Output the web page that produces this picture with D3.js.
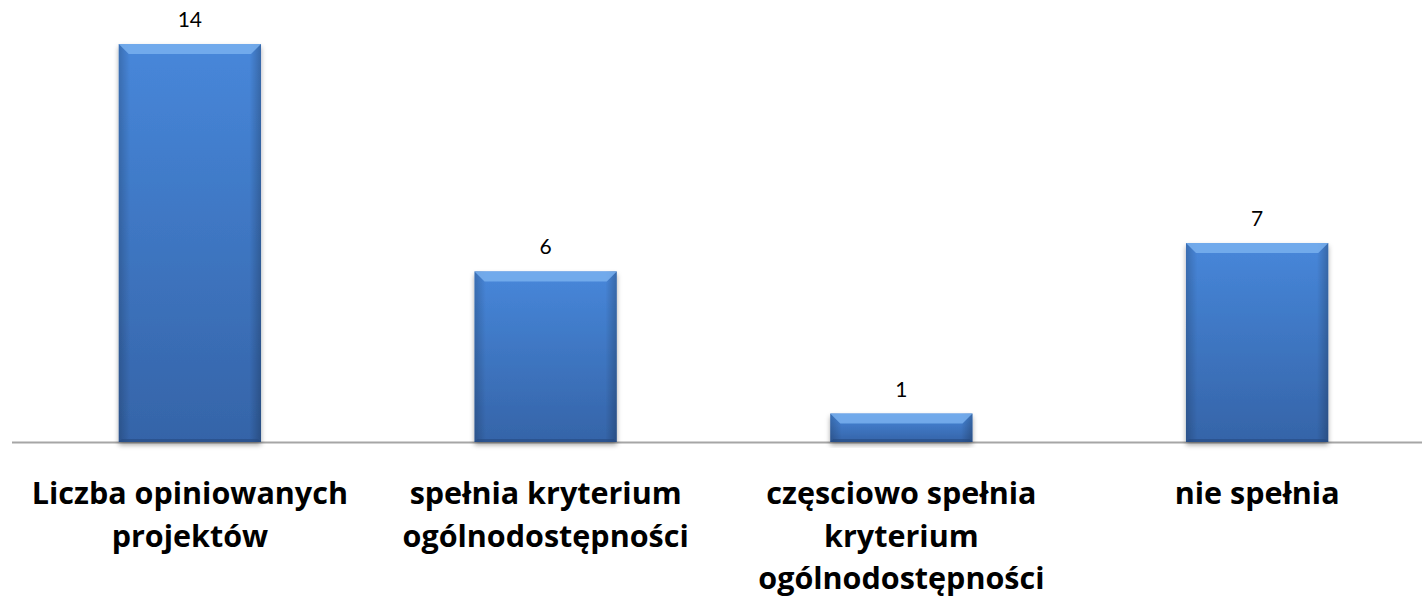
<!DOCTYPE html>
<html>
<head>
<meta charset="utf-8">
<script src="https://d3js.org/d3.v7.min.js"></script>
<style>
  body { margin: 0; background: #fff; }
  svg { display: block; }
</style>
</head>
<body>
<svg id="chart" width="1422" height="603"></svg>
<script>
// data
var categories = ["Liczba opiniowanych projektów", "spełnia kryterium ogólnodostępności", "częsciowo spełnia kryterium ogólnodostępności", "nie spełnia"];
var values = [14, 6, 1, 7];
var tickLabels = [
	["Liczba opiniowanych", "projektów"],
	["spełnia kryterium", "ogólnodostępności"],
	["częsciowo spełnia", "kryterium", "ogólnodostępności"],
	["nie spełnia"]
];

var svg = d3.select("#chart");
var baseY = 442;

var x = d3.scaleBand()
	.domain(categories)
	.range([12, 1435])
	.paddingInner(0.6)
	.paddingOuter(0.3);

var y = d3.scaleLinear()
	.domain([0, 14])
	.range([baseY, 44]);

var defs = svg.append("defs");

var grad = defs.append("linearGradient").attr("id", "barFill")
	.attr("x1", 0).attr("y1", 0).attr("x2", 0).attr("y2", 1);
grad.append("stop").attr("offset", "0%").attr("stop-color", "#4787da");
grad.append("stop").attr("offset", "100%").attr("stop-color", "#3564a8");

var side = defs.append("linearGradient").attr("id", "sideFill")
	.attr("x1", 0).attr("y1", 0).attr("x2", 1).attr("y2", 0);
side.append("stop").attr("offset", "0%").attr("stop-color", "#000").attr("stop-opacity", 0.18);
side.append("stop").attr("offset", "8%").attr("stop-color", "#000").attr("stop-opacity", 0);
side.append("stop").attr("offset", "92%").attr("stop-color", "#000").attr("stop-opacity", 0);
side.append("stop").attr("offset", "100%").attr("stop-color", "#000").attr("stop-opacity", 0.22);

var shadow = defs.append("filter").attr("id", "shadow")
	.attr("x", "-10%").attr("y", "-10%").attr("width", "120%").attr("height", "130%");
shadow.append("feDropShadow").attr("dx", 0).attr("dy", 3).attr("stdDeviation", 2.5)
	.attr("flood-color", "#000").attr("flood-opacity", 0.35);

// axis line
svg.append("line")
	.attr("x1", 12).attr("x2", 1422)
	.attr("y1", baseY + 0.5).attr("y2", baseY + 0.5)
	.attr("stroke", "#a6a6a6").attr("stroke-width", 2);

var bars = svg.selectAll("g.bar")
	.data(values)
	.enter().append("g")
	.attr("class", "bar");

bars.append("rect")
	.attr("x", function(d, i) { return x(categories[i]); })
	.attr("y", function(d) { return y(d); })
	.attr("width", x.bandwidth())
	.attr("height", function(d) { return baseY - y(d); })
	.attr("fill", "url(#barFill)")
	.attr("filter", "url(#shadow)");

bars.append("rect")
	.attr("x", function(d, i) { return x(categories[i]); })
	.attr("y", function(d) { return y(d); })
	.attr("width", x.bandwidth())
	.attr("height", function(d) { return baseY - y(d); })
	.attr("fill", "url(#sideFill)");

// top bevel
var bev = 10;
bars.append("path")
	.attr("d", function(d, i) {
		var x0 = x(categories[i]), x1 = x0 + x.bandwidth(), t = y(d);
		return "M" + x0 + "," + t + "L" + x1 + "," + t + "L" + (x1 - bev) + "," + (t + bev) +
			"L" + (x0 + bev) + "," + (t + bev) + "Z";
	})
	.attr("fill", "#79b0ef")
	.attr("opacity", 0.85);

// bottom edge darker
bars.append("path")
	.attr("d", function(d, i) {
		var x0 = x(categories[i]), x1 = x0 + x.bandwidth();
		return "M" + x0 + "," + baseY + "L" + x1 + "," + baseY + "L" + (x1 - 3) + "," + (baseY - 3) +
			"L" + (x0 + 3) + "," + (baseY - 3) + "Z";
	})
	.attr("fill", "#244a80")
	.attr("opacity", 0.6);

// value labels
bars.append("text")
	.attr("x", function(d, i) { return x(categories[i]) + x.bandwidth() / 2; })
	.attr("y", function(d) { return y(d) - 17; })
	.attr("text-anchor", "middle")
	.style("font-family", "Lato, 'Noto Sans', sans-serif")
	.style("font-size", "21px")
	.attr("fill", "#000")
	.text(function(d) { return d; });

// category labels
var lbl = svg.selectAll("text.cat")
	.data(tickLabels)
	.enter().append("text")
	.attr("class", "cat")
	.attr("text-anchor", "middle")
	.style("font-family", "'Open Sans', 'Noto Sans', sans-serif")
	.style("font-weight", "bold")
	.style("font-size", "30.5px")
	.attr("fill", "#000")
	.attr("transform", function(d, i) {
		return "translate(" + (x(categories[i]) + x.bandwidth() / 2) + ",504)";
	});

lbl.selectAll("tspan")
	.data(function(d) { return d; })
	.enter().append("tspan")
	.attr("x", 0)
	.attr("y", function(d, i) { return i * 42.5; })
	.text(function(d) { return d; });
</script>
</body>
</html>
